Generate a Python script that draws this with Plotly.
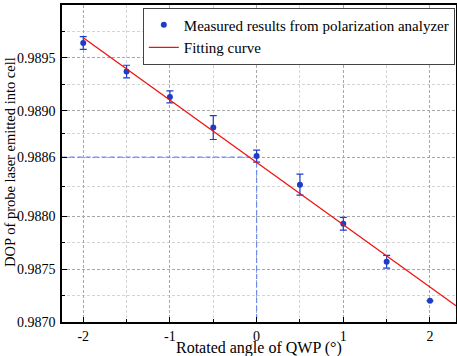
import plotly.graph_objects as go

angle = [-2, -1.5, -1, -0.5, 0, 0.5, 1, 1.5, 2]
dop = [0.98964, 0.98937, 0.98913, 0.98884, 0.98857, 0.98830, 0.98793, 0.98757, 0.98720]
dop_err = [0.00006, 0.00006, 0.000057, 0.000113, 0.000057, 0.0001, 0.00006, 0.00006, 0.0]

fit_x = [-2, 2.3]
fit_intercept = 0.98851
fit_slope = -0.00059
fit_y = [fit_intercept + fit_slope * v for v in fit_x]

ref_level = 0.98856
y_tickvals = [0.9870, 0.9875, 0.9880, 0.98856, 0.9890, 0.9895, 0.9900]
y_ticktext = ["0.9870", "0.9875", "0.9880", "0.9886", "0.9890", "0.9895", "0.9900"]
y_minor = [0.98725, 0.98775, 0.98828, 0.98878, 0.98925, 0.98975]
x_tickvals = [-2, -1, 0, 1, 2]
x_minor = [-1.5, -0.5, 0.5, 1.5]

font = "Liberation Serif"
blue = "#1f3cc8"

fig = go.Figure()

fig.add_trace(go.Scatter(
    x=[-2.25, 0, 0], y=[ref_level, ref_level, 0.9870], mode="lines",
    line=dict(color="#6b8cf0", width=1.2, dash="5px,3px"),
    showlegend=False, hoverinfo="skip"))

fig.add_trace(go.Scatter(
    x=angle, y=dop, mode="markers", name="Measured results from polarization analyzer",
    marker=dict(color=blue, size=6),
    error_y=dict(type="data", array=dop_err, color=blue, thickness=1.2, width=3.5)))

fig.add_trace(go.Scatter(
    x=fit_x, y=fit_y, mode="lines", name="Fitting curve",
    line=dict(color="#ee1111", width=1.3)))

axis_common = dict(
    showline=True, linecolor="black", linewidth=1.5, mirror=True,
    ticks="inside", ticklen=5, tickcolor="black", tickwidth=1.2,
    showgrid=True, gridcolor="#a8a8a8", griddash="3px,2px", gridwidth=1,
    zeroline=False, automargin=False,
    tickfont=dict(family=font, size=14, color="black"),
)

fig.update_xaxes(
    **axis_common, range=[-2.245, 2.3], tickmode="array", tickvals=x_tickvals,
    ticktext=[str(v) for v in x_tickvals], ticklabelstandoff=0,
    minor=dict(tickvals=x_minor, ticks="inside", ticklen=3, tickcolor="black",
               showgrid=True, gridcolor="#d4d4d4", griddash="3px,2px"))

fig.update_yaxes(
    **axis_common, range=[0.9870, 0.9900], tickmode="array", tickvals=y_tickvals,
    ticktext=y_ticktext, ticklabelstandoff=2,
    minor=dict(tickvals=y_minor, ticks="inside", ticklen=3, tickcolor="black",
               showgrid=True, gridcolor="#d4d4d4", griddash="3px,2px"))

fig.add_annotation(
    text="Rotated angle of QWP (°)", xref="paper", yref="paper", x=0.5, y=-0.081,
    xanchor="center", yanchor="middle", showarrow=False,
    font=dict(family=font, size=16, color="black"))
fig.add_annotation(
    text="DOP of probe laser emitted into cell", xref="paper", yref="paper",
    x=-0.132, y=0.505, xanchor="center", yanchor="middle", textangle=-90, showarrow=False,
    font=dict(family=font, size=14.5, color="black"))

fig.update_layout(
    width=457, height=356,
    margin=dict(l=62, r=1, t=5, b=34),
    paper_bgcolor="white", plot_bgcolor="white",
    font=dict(family=font, size=14, color="black"),
    legend=dict(x=0.997, xanchor="right", y=0.992, yanchor="top",
                bgcolor="white", bordercolor="#444444", borderwidth=1,
                font=dict(family=font, size=15, color="black"),
                tracegroupgap=0, itemwidth=30),
)

fig.write_html("out.html", config={"displayModeBar": False},
               post_script="document.body.style.margin='0';document.body.style.overflow='hidden';")
